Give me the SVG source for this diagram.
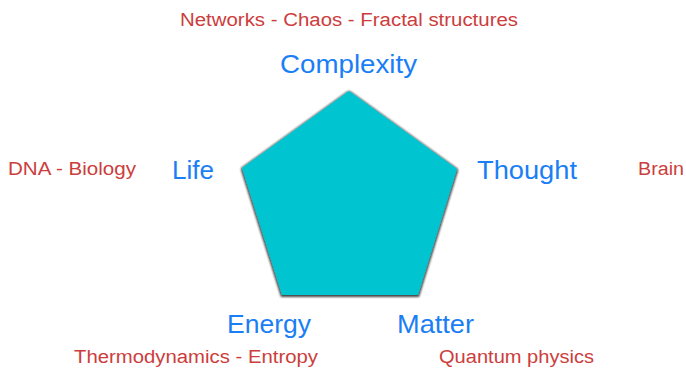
<svg xmlns="http://www.w3.org/2000/svg" width="686" height="370" viewBox="0 0 686 370">
<style>
text{font-family:"Liberation Sans",Arial,sans-serif}
.b{fill:#1a7ef5;font-size:25px}
.r{fill:#cc3d3d;font-size:18px}
</style>
<defs>
<filter id="sh" x="-10%" y="-10%" width="120%" height="120%">
<feMorphology in="SourceAlpha" operator="dilate" radius="0.6" result="d"/>
<feGaussianBlur in="d" stdDeviation="1"/>
<feOffset dx="0" dy="0.5"/>
<feComponentTransfer><feFuncA type="linear" slope="0.75"/></feComponentTransfer>
<feMerge><feMergeNode/><feMergeNode in="SourceGraphic"/></feMerge>
</filter>
</defs>
<rect width="686" height="370" fill="#fff"/>
<g id="pentagon">
<polygon points="349,91 457,169 418,295 282,295 242,168" fill="#00c4d0" filter="url(#sh)"/>
</g>
<g id="complexity"><text class="b" x="280" y="73" textLength="137" lengthAdjust="spacingAndGlyphs">Complexity</text><text class="r" x="180" y="26" textLength="338" lengthAdjust="spacingAndGlyphs">Networks - Chaos - Fractal structures</text></g>
<g id="life"><text class="b" x="172" y="179" textLength="42" lengthAdjust="spacingAndGlyphs">Life</text><text class="r" x="8" y="175" textLength="128" lengthAdjust="spacingAndGlyphs">DNA - Biology</text></g>
<g id="thought"><text class="b" x="477" y="179" textLength="100" lengthAdjust="spacingAndGlyphs">Thought</text><text class="r" x="638" y="175" textLength="46" lengthAdjust="spacingAndGlyphs">Brain</text></g>
<g id="energy"><text class="b" x="227" y="333" textLength="84" lengthAdjust="spacingAndGlyphs">Energy</text><text class="r" x="74" y="363" textLength="244" lengthAdjust="spacingAndGlyphs">Thermodynamics - Entropy</text></g>
<g id="matter"><text class="b" x="397" y="333" textLength="77" lengthAdjust="spacingAndGlyphs">Matter</text><text class="r" x="439" y="363" textLength="155" lengthAdjust="spacingAndGlyphs">Quantum physics</text></g>
<g id="connectors"/>
</svg>
